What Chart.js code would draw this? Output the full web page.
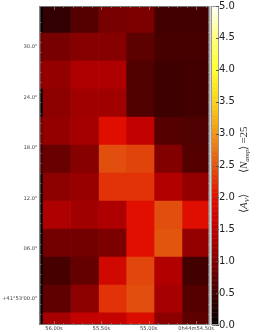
<!DOCTYPE html>
<html lang="en">
<head>
  <meta charset="UTF-8" />
  <title>Av map</title>
  <script src="https://cdn.jsdelivr.net/npm/chart.js"></script>
  <style>
    html, body { margin: 0; padding: 0; background: #fff; }
    #wrap { position: absolute; left: 0; top: 0; width: 256px; height: 332px; }
  </style>
</head>
<body>
  <div id="wrap"><canvas id="mapChart" width="256" height="332"></canvas></div>
  <script>
    // right ascension edges in seconds of time, left to right
    const raEdges = [56.116, 55.826, 55.53, 55.24, 54.945, 54.65, 54.354];
    const raStrip = [56.153, 56.116];
    // row centres in arcsec past +41:53:00, top to bottom
    const decCentres = [33.33, 30, 26.67, 23.33, 20, 16.67, 13.33, 10, 6.67, 3.33, 0, -3.33];
    const decTicks = [30, 24, 18, 12, 6, 0];
    const decLabels = ['30.0"', '24.0"', '18.0"', '12.0"', '06.0"', '+41°53\'00.0"'];
    const raTicks = [56.0, 55.5, 55.0, 54.5];
    const raLabels = ['56.00s', '55.50s', '55.00s', '0h44m54.50s'];
    const cbarTicks = [0, 0.5, 1, 1.5, 2, 2.5, 3, 3.5, 4, 4.5, 5];

    // mean Av in the thin strip at the left edge, top to bottom
    const avStrip = [0.02, 0.85, 1.05, 0.02, 0.9, 0.55, 0.1, 0.02, 0.02, 0.1, 0.05, 0.05];
    // mean Av per cell, one list per row
    const avRow0 = [0.38, 0.65, 0.92, 0.95, 0.50, 0.50];
    const avRow1 = [0.92, 1.03, 1.03, 0.70, 0.53, 0.53];
    const avRow2 = [1.15, 1.37, 1.37, 0.62, 0.47, 0.50];
    const avRow3 = [1.08, 1.25, 1.25, 0.62, 0.47, 0.50];
    const avRow4 = [1.15, 1.28, 1.98, 1.55, 0.65, 0.60];
    const avRow5 = [0.80, 1.03, 2.45, 2.38, 1.00, 0.65];
    const avRow6 = [1.08, 1.18, 2.25, 2.25, 1.40, 1.15];
    const avRow7 = [1.37, 1.25, 1.37, 2.00, 2.45, 1.97];
    const avRow8 = [0.88, 0.88, 0.95, 2.00, 2.50, 1.15];
    const avRow9 = [0.53, 0.77, 1.75, 2.40, 1.40, 0.50];
    const avRow10 = [0.73, 1.08, 2.25, 2.45, 1.30, 0.65];
    const avRow11 = [1.30, 1.55, 1.60, 1.90, 1.08, 0.73];
    const avRows = [avRow0, avRow1, avRow2, avRow3, avRow4, avRow5, avRow6, avRow7, avRow8, avRow9, avRow10, avRow11];

    // colour bar stops
    const mapStops = [0, 0.5, 1, 1.5, 2, 2.5, 3, 3.5, 4, 4.5, 5];
    const mapReds = [0, 66, 130, 190, 225, 225, 240, 250, 255, 255, 255];
    const mapGreens = [0, 0, 0, 0, 15, 85, 150, 210, 255, 255, 255];
    const mapBlues = [0, 0, 0, 0, 0, 15, 20, 30, 50, 120, 255];

    function avColor(v) {
      const t = Math.min(4.999, Math.max(0, v)) / 0.5;
      const i = Math.floor(t), f = t - i;
      const mix = a => Math.round(a[i] + (a[i + 1] - a[i]) * f);
      return `rgb(${mix(mapReds)},${mix(mapGreens)},${mix(mapBlues)})`;
    }

    // one floating horizontal bar per cell, one dataset per column
    const barBase = { borderWidth: 0, grouped: false, barPercentage: 1, categoryPercentage: 1 };
    const datasets = raEdges.slice(0, -1).map((edge, col) => ({
      ...barBase,
      data: decCentres.map(y => ({ x: [edge, raEdges[col + 1]], y })),
      backgroundColor: avRows.map(row => avColor(row[col]))
    }));
    datasets.push({
      ...barBase,
      data: decCentres.map(y => ({ x: raStrip, y })),
      backgroundColor: avStrip.map(avColor)
    });

    function tickLine(ctx, x1, y1, x2, y2) {
      ctx.beginPath();
      ctx.moveTo(x1, y1);
      ctx.lineTo(x2, y2);
      ctx.stroke();
    }

    function noPadding(s) {
      s.paddingTop = s.paddingBottom = s.paddingLeft = s.paddingRight = 0;
    }

    const framePlugin = {
      id: 'frame',
      afterDraw(chart) {
        const { ctx, chartArea: a, scales } = chart;
        ctx.save();
        ctx.strokeStyle = 'rgba(170,170,170,0.55)';
        ctx.lineWidth = 1;

        // minor and major ticks inside the frame
        for (let d = -3; d <= 34; d += 1.2) {
          const y = Math.round(scales.y.getPixelForValue(d)) + 0.5;
          const major = Math.abs(d / 6 - Math.round(d / 6)) < 0.01;
          tickLine(ctx, a.left, y, a.left + (major ? 4 : 2), y);
          tickLine(ctx, a.right, y, a.right - (major ? 4 : 2), y);
        }
        for (let r = 54.4; r <= 56.1; r += 0.1) {
          const x = Math.round(scales.x.getPixelForValue(r)) + 0.5;
          const major = Math.abs(r * 2 - Math.round(r * 2)) < 0.01;
          tickLine(ctx, x, a.bottom, x, a.bottom - (major ? 4 : 2));
          tickLine(ctx, x, a.top, x, a.top + (major ? 4 : 2));
        }
        ctx.strokeStyle = '#777';
        tickLine(ctx, a.left, a.top + 0.5, a.right, a.top + 0.5);
        tickLine(ctx, a.left, a.bottom - 0.5, a.right, a.bottom - 0.5);
        tickLine(ctx, a.left + 0.5, a.top, a.left + 0.5, a.bottom);
        ctx.strokeStyle = '#aaa';
        ctx.lineWidth = 2;
        tickLine(ctx, a.right - 0.5, a.top, a.right - 0.5, a.bottom);
        ctx.lineWidth = 1;

        const barL = 212, barR = 218;
        const c = scales.y2;
        for (let v = 0; v < 5; v += 0.02) {
          ctx.fillStyle = avColor(v);
          const top = c.getPixelForValue(v + 0.02);
          ctx.fillRect(barL, top, barR - barL, c.getPixelForValue(v) - top + 0.5);
        }
        ctx.strokeStyle = '#999';
        ctx.strokeRect(barL - 0.5, a.top + 0.5, barR - barL + 1, a.bottom - a.top - 1);
        ctx.strokeStyle = '#555';
        cbarTicks.forEach(v => {
          const y = Math.round(c.getPixelForValue(v)) + 0.5;
          tickLine(ctx, barR - 2, y, barR + 1, y);
        });

        // rotated colour bar label
        ctx.translate(247, 213);
        ctx.rotate(-Math.PI / 2);
        ctx.fillStyle = '#333';
        ctx.textBaseline = 'alphabetic';
        let x = 0;
        const piece = (text, font, dy) => {
          ctx.font = font;
          ctx.fillText(text, x, dy);
          x += ctx.measureText(text).width;
        };
        const serif = '"Liberation Serif"';
        piece('⟨', `11px ${serif}`, 0);
        piece('A', `italic 11px ${serif}`, 0);
        piece('V', `italic 7px ${serif}`, 2);
        piece('⟩', `11px ${serif}`, 0);
        x = 40;
        piece('⟨', `11px ${serif}`, 0);
        piece('N', `italic 11px ${serif}`, 0);
        piece('amp', `italic 7px ${serif}`, 2);
        piece('⟩', `11px ${serif}`, 0);
        x += 2;
        piece('=25', `11px ${serif}`, 0);
        ctx.restore();
      }
    };

    new Chart(document.getElementById('mapChart'), {
      type: 'bar',
      data: { datasets },
      plugins: [framePlugin],
      options: {
        indexAxis: 'y',
        responsive: false,
        animation: false,
        layout: { padding: { top: 6, bottom: 0, left: 0, right: 0 } },
        plugins: { legend: { display: false }, tooltip: { enabled: false } },
        scales: {
          x: {
            type: 'linear',
            reverse: true,
            min: 54.354,
            max: 56.153,
            afterFit(s) { s.height = 7; noPadding(s); },
            afterBuildTicks(s) { s.ticks = raTicks.map(value => ({ value })); },
            grid: { display: false, drawTicks: false },
            border: { display: false },
            ticks: {
              autoSkip: false,
              maxRotation: 0,
              padding: 1,
              color: '#444',
              font: { family: 'DejaVu Sans', size: 5.2 },
              callback: (v, i) => raLabels[i]
            }
          },
          y: {
            type: 'linear',
            offset: false,
            min: -3.1,
            max: 34.88,
            afterFit(s) { s.width = 39.5; noPadding(s); },
            afterBuildTicks(s) { s.ticks = decTicks.map(value => ({ value })); },
            grid: { display: false, drawTicks: false, offset: false },
            border: { display: false },
            ticks: {
              autoSkip: false,
              padding: 2,
              color: '#444',
              font: { family: 'DejaVu Sans', size: 5.2 },
              callback: (v, i) => decLabels[i]
            }
          },
          y2: {
            type: 'linear',
            position: 'right',
            offset: false,
            min: 0,
            max: 5,
            afterFit(s) { s.width = 46; noPadding(s); },
            afterBuildTicks(s) { s.ticks = cbarTicks.map(value => ({ value })); },
            grid: { display: false, drawTicks: false, offset: false },
            border: { display: false },
            ticks: {
              autoSkip: false,
              padding: 9,
              color: '#222',
              font: { family: 'DejaVu Sans', size: 10 },
              callback: v => v.toFixed(1)
            }
          }
        }
      }
    });
  </script>
</body>
</html>
